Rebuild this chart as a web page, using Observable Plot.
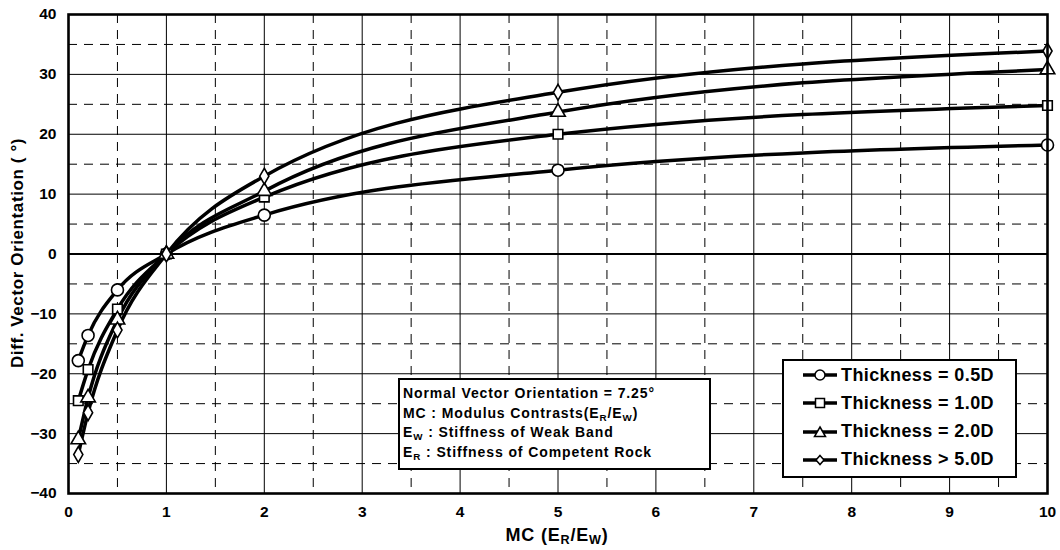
<!DOCTYPE html>
<html><head><meta charset="utf-8">
<script src="https://cdn.jsdelivr.net/npm/d3@7"></script>
<script src="https://cdn.jsdelivr.net/npm/@observablehq/plot@0.6"></script>
<style>
body{margin:0;background:#fff;font-family:"Liberation Sans",Arial,sans-serif;color:#000;}
#wrap{position:relative;width:1060px;height:550px;overflow:hidden;}
#ylab{position:absolute;left:18px;top:253px;transform:translate(-50%,-50%) rotate(-90deg);white-space:nowrap;font-size:17px;letter-spacing:0.6px;font-weight:bold;}
#xlab{position:absolute;left:557px;top:535px;transform:translate(-50%,-50%);white-space:nowrap;font-size:18px;letter-spacing:0.8px;font-weight:bold;}
sub{font-size:70%;vertical-align:-3px;line-height:0;}
#note{position:absolute;left:398px;top:378px;border:2px solid #000;background:#fff;font-size:14px;letter-spacing:0.9px;font-weight:bold;line-height:19.5px;padding:4px 0 0 3px;box-sizing:border-box;width:313px;height:92px;white-space:nowrap;}
#legend{position:absolute;left:782px;top:359px;width:235px;height:119px;border:2.5px solid #000;background:#fff;box-sizing:border-box;}
.lrow{position:absolute;left:18px;height:26px;display:flex;align-items:center;font-size:18px;letter-spacing:0.4px;font-weight:bold;}
.lrow svg{margin-right:3px;}
</style></head><body><div id="wrap"></div>
<script>
// Data
const mc = [0.1, 0.2, 0.5, 1, 2, 5, 10];
const seriesNames = ["Thickness = 0.5D", "Thickness = 1.0D", "Thickness = 2.0D", "Thickness > 5.0D"];
const t05 = [-17.8, -13.6, -6.0, 0, 6.5, 14.0, 18.2];
const t10 = [-24.5, -19.3, -9.2, 0, 9.5, 20.0, 24.8];
const t20 = [-31.0, -24.0, -11.0, 0, 10.5, 23.7, 30.8];
const t50 = [-33.5, -26.5, -12.7, 0, 13.0, 27.0, 33.9];
const symbols = ["circle", "square", "triangle", "diamond"];
const xTicks = [0, 1, 2, 3, 4, 5, 6, 7, 8, 9, 10];
const yTicks = [-40, -30, -20, -10, 0, 10, 20, 30, 40];
const xMajor = [1, 2, 3, 4, 5, 6, 7, 8, 9];
const xMinor = [0.5, 1.5, 2.5, 3.5, 4.5, 5.5, 6.5, 7.5, 8.5, 9.5];
const yMajor = [-30, -20, -10, 10, 20, 30];
const yMinor = [-35, -25, -15, -5, 5, 15, 25, 35];
const noteLines = [
  'Normal Vector Orientation = 7.25°',
  'MC : Modulus Contrasts(E<sub>R</sub>/E<sub>W</sub>)',
  'E<sub>W</sub> : Stiffness of Weak Band',
  'E<sub>R</sub> : Stiffness of Competent Rock'
];

const allSeries = [t05, t10, t20, t50];
const rows = [];
allSeries.forEach((vals, i) => mc.forEach((x, j) => rows.push({series: seriesNames[i], mc: x, v: vals[j], sym: symbols[i]})));
const rSize = {circle: 6, square: 5.4, triangle: 5.4, diamond: 4.8};

const marks = [
  Plot.ruleX(xMinor, {stroke: "#000", strokeWidth: 1, strokeDasharray: "9,7"}),
  Plot.ruleY(yMinor, {stroke: "#000", strokeWidth: 1, strokeDasharray: "9,7"}),
  Plot.ruleX(xMajor, {stroke: "#000", strokeWidth: 1}),
  Plot.ruleY(yMajor, {stroke: "#000", strokeWidth: 1}),
  Plot.ruleY([0], {stroke: "#000", strokeWidth: 2.2}),
  Plot.line(rows, {x: "mc", y: "v", z: "series", stroke: "#000", strokeWidth: 3.5, curve: "monotone-x"})
];
symbols.forEach((s, i) => {
  marks.push(Plot.dot(rows.filter(d => d.series === seriesNames[i]), {x: "mc", y: "v", symbol: () => s, r: rSize[s], fill: "#fff", stroke: "#000", strokeWidth: 1.6}));
});
marks.push(Plot.frame({stroke: "#000", strokeWidth: 2.6}));

const chart = Plot.plot({
  width: 1060, height: 550,
  marginLeft: 68, marginRight: 13, marginTop: 14, marginBottom: 57,
  style: {fontFamily: "'Liberation Sans', Arial, sans-serif", fontSize: "15.5px", fontWeight: "bold", color: "#000", background: "#fff"},
  x: {domain: [0, 10], ticks: xTicks, tickSize: 0, tickPadding: 12, label: null, tickFormat: d => String(d)},
  y: {domain: [-40, 40], ticks: yTicks, tickSize: 0, tickPadding: 12, label: null, tickFormat: d => d < 0 ? "\u2212" + Math.abs(d) : String(d)},
  symbol: {domain: symbols, range: symbols},
  marks
});
const wrap = document.getElementById("wrap");
wrap.appendChild(chart);

const yl = document.createElement("div"); yl.id = "ylab"; yl.textContent = "Diff. Vector Orientation ( °)"; wrap.appendChild(yl);
const xl = document.createElement("div"); xl.id = "xlab"; xl.innerHTML = "MC (E<sub>R</sub>/E<sub>W</sub>)"; wrap.appendChild(xl);

const note = document.createElement("div"); note.id = "note";
note.innerHTML = noteLines.join("<br>");
wrap.appendChild(note);

const leg = document.createElement("div"); leg.id = "legend";
const symPath = {
  circle: '<circle cx="18" cy="13" r="5" fill="#fff" stroke="#000" stroke-width="1.5"/>',
  square: '<rect x="13.5" y="8.5" width="9" height="9" fill="#fff" stroke="#000" stroke-width="1.5"/>',
  triangle: '<path d="M18,8 L23.5,17.5 L12.5,17.5 Z" fill="#fff" stroke="#000" stroke-width="1.5"/>',
  diamond: '<path d="M18,8.5 L22,13 L18,17.5 L14,13 Z" fill="#fff" stroke="#000" stroke-width="1.5"/>'
};
seriesNames.forEach((n, i) => {
  const r = document.createElement("div"); r.className = "lrow"; r.style.top = (1 + i * 28.3) + "px";
  r.innerHTML = '<svg width="36" height="26"><line x1="1" y1="13" x2="35" y2="13" stroke="#000" stroke-width="3.5"/>' + symPath[symbols[i]] + '</svg><span>' + n + '</span>';
  leg.appendChild(r);
});
wrap.appendChild(leg);
</script></body></html>
